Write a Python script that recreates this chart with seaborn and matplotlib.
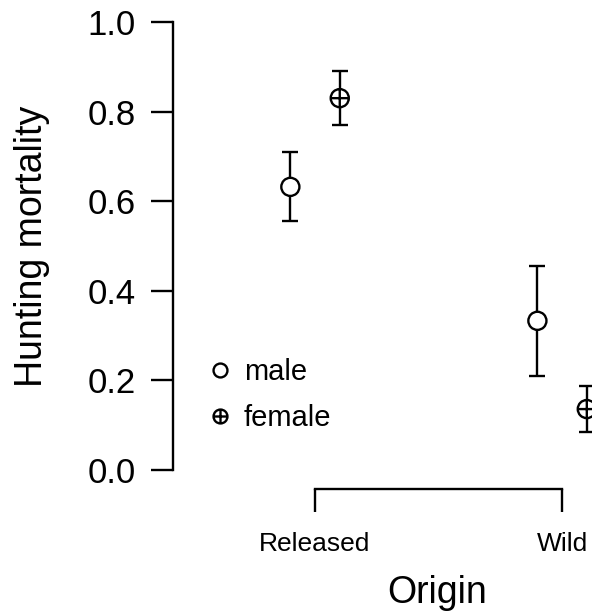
import numpy as np
import pandas as pd
import matplotlib
matplotlib.use("Agg")
import matplotlib.pyplot as plt
import seaborn as sns
from matplotlib.path import Path
from matplotlib.lines import Line2D

sns.set_style("ticks")
plt.rcParams["font.family"] = ["Liberation Sans", "DejaVu Sans"]
plt.rcParams["text.color"] = "black"
plt.rcParams["axes.labelcolor"] = "black"

# data
origins = ["Released", "Wild"]
origin = ["Released", "Released", "Wild", "Wild"]
sex = ["male", "female", "male", "female"]
mortality = [0.632, 0.830, 0.333, 0.136]
lower = [0.556, 0.769, 0.210, 0.085]
upper = [0.709, 0.891, 0.456, 0.188]

df = pd.DataFrame({"Origin": origin, "Sex": sex, "Mortality": mortality,
                   "Lower": lower, "Upper": upper})
offset = {"male": -0.1, "female": 0.1}
df["x"] = df["Origin"].map({o: i for i, o in enumerate(origins)}) + df["Sex"].map(offset)

# circle with a plus (like R pch=10)
plus = Path([[-1, 0], [1, 0], [0, -1], [0, 1]],
            [Path.MOVETO, Path.LINETO, Path.MOVETO, Path.LINETO])
oplus = Path.make_compound_path(Path.unit_circle(), plus)

lw = 1.7

fig = plt.figure(figsize=(5.92, 6.12), dpi=100)
ax = fig.add_axes([173 / 592, 142 / 612, 1 - 173 / 592, 448 / 612])

ax.errorbar(df["x"], df["Mortality"],
            yerr=[df["Mortality"] - df["Lower"], df["Upper"] - df["Mortality"]],
            fmt="none", ecolor="black", elinewidth=lw, capsize=6, capthick=lw, zorder=2)
sns.scatterplot(data=df, x="x", y="Mortality", style="Sex",
                markers={"male": "o", "female": oplus}, s=170,
                color="white", edgecolor="black", linewidth=lw,
                legend=False, zorder=3, ax=ax)

ax.set_xlim(-0.575, 1.121)
ax.set_ylim(0, 1)
ax.set_yticks(np.arange(0, 1.01, 0.2))
ax.set_yticklabels([f"{v:.1f}" for v in np.arange(0, 1.01, 0.2)])
ax.set_xticks(range(len(origins)))
ax.set_xticklabels(origins)

sns.despine(ax=ax)
ax.spines["left"].set_bounds(0, 1)
ax.spines["bottom"].set_bounds(0, 1)
ax.spines["bottom"].set_position(("outward", 14))
for s in ["left", "bottom"]:
    ax.spines[s].set_linewidth(lw)
    ax.spines[s].set_color("black")

ax.tick_params(axis="y", length=16, width=lw, pad=11, labelsize=25, colors="black")
ax.tick_params(axis="x", length=16.5, width=lw, pad=14, labelsize=19, colors="black")

ax.set_ylabel("Hunting mortality", fontsize=27)
ax.yaxis.set_label_coords(-0.294, 0.5)
ax.set_xlabel("Origin", fontsize=27)
ax.xaxis.set_label_coords(0.63, -0.235)

handles = [
    Line2D([], [], linestyle="none", marker="o", markersize=10, markerfacecolor="white",
           markeredgecolor="black", markeredgewidth=lw),
    Line2D([], [], linestyle="none", marker=oplus, markersize=10, markerfacecolor="white",
           markeredgecolor="black", markeredgewidth=lw),
]
ax.legend(handles, ["male", "female"], frameon=False, fontsize=21,
          loc="center left", bbox_to_anchor=(0.078, 0.167), borderaxespad=0,
          borderpad=0, handlelength=1.0, handletextpad=0.3, labelspacing=0.6)

fig.savefig("out.png", dpi=100)
